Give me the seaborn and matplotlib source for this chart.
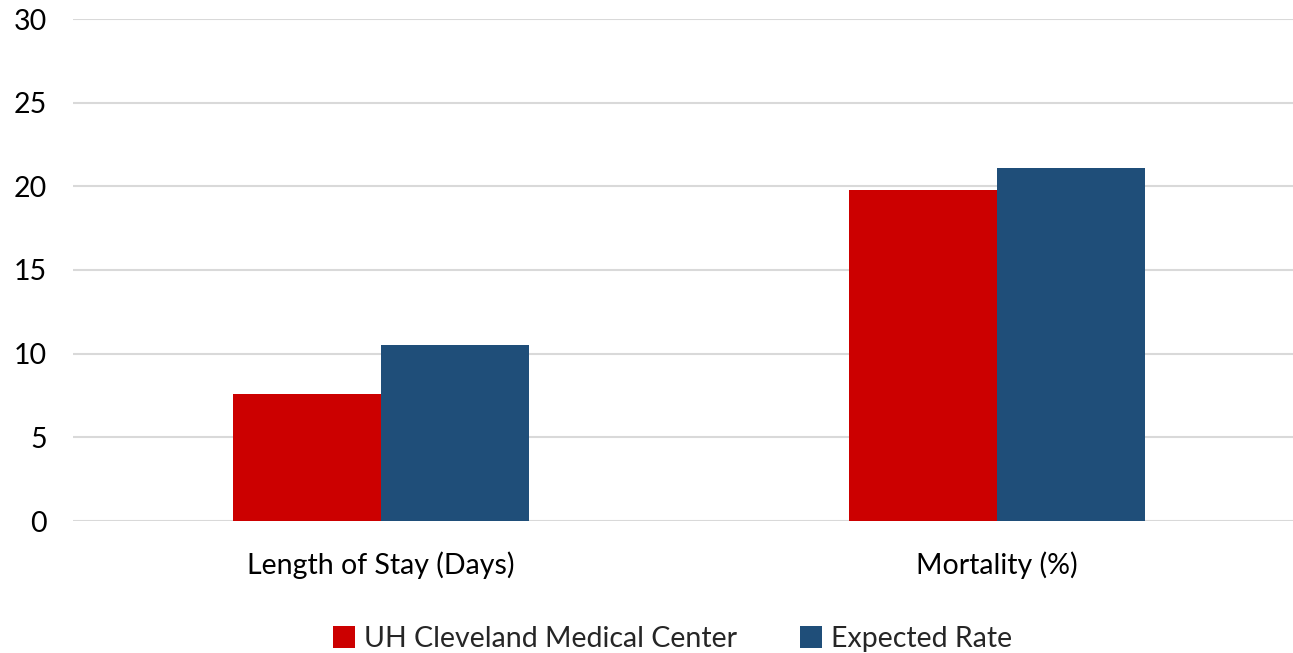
import matplotlib
matplotlib.use("Agg")
import matplotlib.pyplot as plt
import seaborn as sns
import pandas as pd

# data
categories = ["Length of Stay (Days)", "Mortality (%)"]
uh_values = [7.6, 19.8]
expected_values = [10.5, 21.1]
series_names = ["UH Cleveland Medical Center", "Expected Rate"]
colors = ["#CC0000", "#1F4E79"]

df = pd.DataFrame({
    "category": categories * 2,
    "value": uh_values + expected_values,
    "series": [series_names[0]] * 2 + [series_names[1]] * 2,
})

sns.set_style("white")
plt.rcParams["font.family"] = ["Lato", "DejaVu Sans"]

fig = plt.figure(figsize=(12.93, 6.53), dpi=100)
ax = fig.add_axes([73 / 1293, 132 / 653, 1232 / 1293, 502 / 653])

sns.barplot(data=df, x="category", y="value", hue="series", palette=colors,
            width=0.48, gap=0, saturation=1, linewidth=0, ax=ax, legend=True)

ax.set_ylim(0, 30)
ax.set_yticks(range(0, 31, 5))
ax.yaxis.grid(True, color="#D9D9D9", linewidth=1.5)
ax.set_axisbelow(True)
for s in ax.spines.values():
    s.set_visible(False)
ax.set_xlabel("")
ax.set_ylabel("")
ax.tick_params(axis="both", length=0, labelsize=20.5, colors="#000000")
ax.tick_params(axis="x", pad=22)
ax.tick_params(axis="y", pad=19)

handles, labels = ax.get_legend_handles_labels()
ax.legend_.remove()
fig.legend(handles, labels, loc="center", bbox_to_anchor=(0.52, 0.022), ncol=2,
           frameon=False, fontsize=20.5, handlelength=0.8, handleheight=0.8,
           handletextpad=0.3, columnspacing=2.2)

fig.savefig("out.png", dpi=100)
